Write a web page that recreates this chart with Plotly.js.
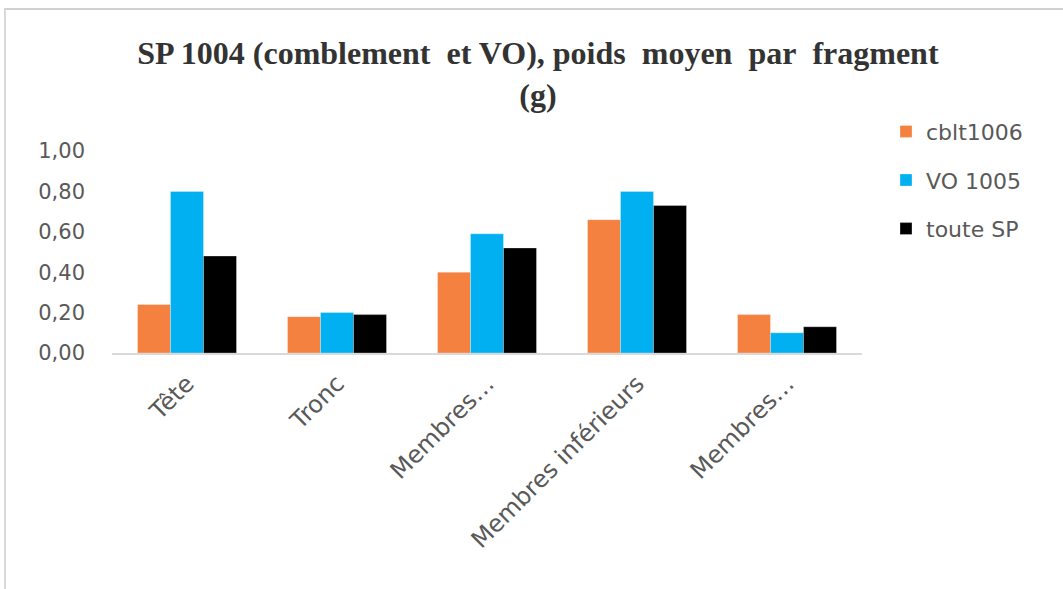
<!DOCTYPE html>
<html>
<head>
<meta charset="utf-8">
<script src="https://cdn.plot.ly/plotly-3.0.1.min.js"></script>
<style>
  html, body { margin: 0; padding: 0; background: #ffffff; }
  #frame { position: absolute; left: 4px; top: 8px; width: 1070px; height: 590px;
           border-top: 2px solid #d0d0d0; border-left: 2px solid #d9d9d9; }
  #chart { position: absolute; left: 0; top: 0; width: 1063px; height: 589px; }
</style>
</head>
<body>
<div id="frame"></div>
<div id="chart"></div>
<script>
const categories = ["Tête", "Tronc", "Membres supérieurs", "Membres inférieurs", "Membres indéterminés"];
const tickLabels = ["Tête", "Tronc", "Membres…", "Membres inférieurs", "Membres…"];
const seriesNames = ["cblt1006", "VO 1005", "toute SP"];
const cblt1006 = [0.24, 0.18, 0.40, 0.66, 0.19];
const vo1005 = [0.80, 0.20, 0.59, 0.80, 0.10];
const touteSP = [0.48, 0.19, 0.52, 0.73, 0.13];
const yTicks = [0, 0.2, 0.4, 0.6, 0.8, 1.0];

const colors = ["#F4813F", "#00B0F0", "#000000"];
const values = [cblt1006, vo1005, touteSP];

const traces = values.map((v, i) => ({
  type: "bar",
  name: seriesNames[i],
  x: categories,
  y: v,
  marker: { color: colors[i], line: { color: "rgba(255,255,255,0.6)", width: 0.5 } },
  legendgroup: "g" + i,
  hoverinfo: "x+y+name"
}));

const layout = {
  width: 1063,
  height: 589,
  margin: { l: 112, r: 201, t: 151, b: 236 },
  paper_bgcolor: "rgba(0,0,0,0)",
  plot_bgcolor: "rgba(0,0,0,0)",
  separators: ", ",
  barmode: "group",
  bargap: 0.34,
  bargroupgap: 0,
  title: {
    text: "<b>SP 1004 (comblement\u00a0 et VO), poids\u00a0 moyen\u00a0 par\u00a0 fragment<br>(g)</b>",
    font: { family: "Liberation Serif", size: 32, color: "#333333" },
    x: 0.506, xanchor: "center",
    y: 1 - 64 / 589, yanchor: "top"
  },
  xaxis: {
    type: "category",
    tickmode: "array",
    tickvals: categories,
    ticktext: tickLabels,
    tickangle: -45,
    tickfont: { family: "DejaVu Sans", size: 24, color: "#595959" },
    showgrid: false,
    showline: true,
    linecolor: "#d9d9d9",
    linewidth: 2,
    ticks: "",
    ticklabelstandoff: 5,
    zeroline: false
  },
  yaxis: {
    range: [0, 1.0],
    tickvals: yTicks,
    tickformat: ".2f",
    tickfont: { family: "DejaVu Sans", size: 21, color: "#595959" },
    showgrid: false,
    showline: false,
    zeroline: false,
    ticks: "",
    ticklabelstandoff: 26
  },
  showlegend: true,
  legend: {
    x: 1.032, xanchor: "left",
    y: 1.20, yanchor: "top",
    font: { family: "DejaVu Sans", size: 22, color: "#595959" },
    tracegroupgap: 17,
    bgcolor: "rgba(0,0,0,0)"
  }
};

Plotly.newPlot("chart", traces, layout, { displayModeBar: false, staticPlot: false });
</script>
</body>
</html>
